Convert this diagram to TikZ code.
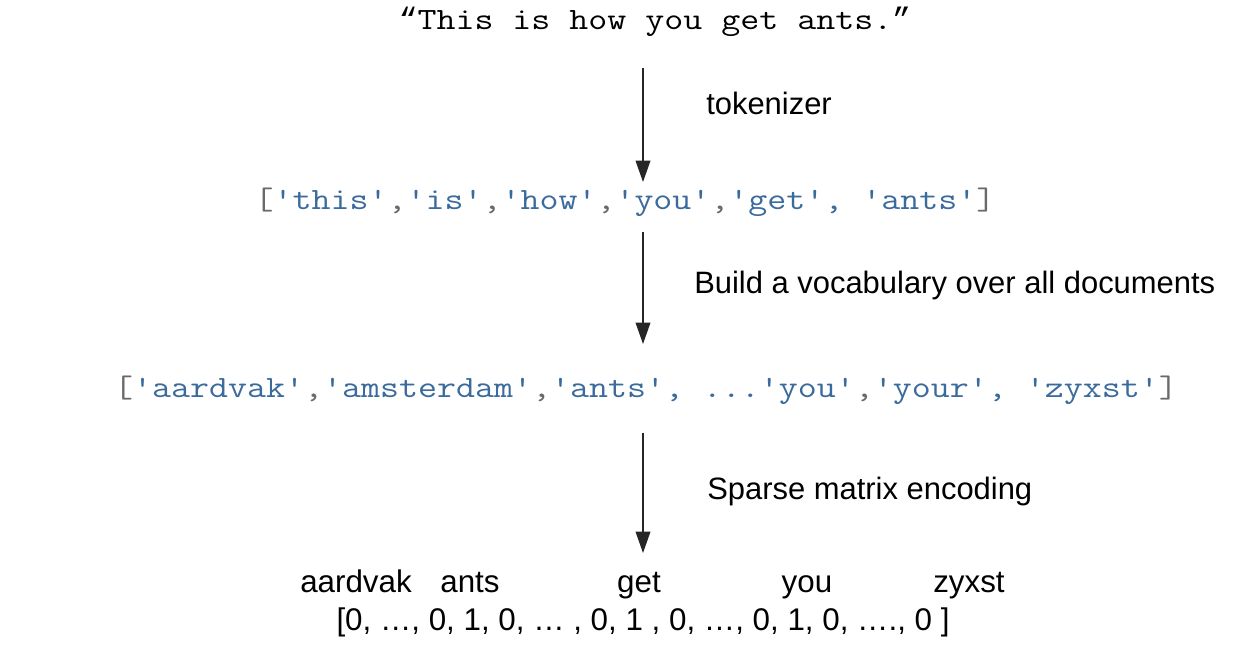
\documentclass[tikz,border=0pt]{standalone}
\usepackage{fontspec}
\setmainfont{Liberation Sans}
\setmonofont{Latin Modern Mono}[FakeStretch=1.19]
\newfontfamily\quotefont{Liberation Mono}
\usetikzlibrary{arrows.meta}
\definecolor{strblue}{HTML}{3B6B9C}
\definecolor{punct}{HTML}{6A6A6A}
\newcommand{\qs}[1]{\textcolor{strblue}{#1}}
\newcommand{\pc}[1]{\textcolor{punct}{#1}}
\begin{document}
\begin{tikzpicture}[x=0.75pt,y=-0.75pt,
  code/.style={font=\ttfamily\fontsize{23.25}{26}\selectfont, inner sep=0pt},
  label/.style={font=\fontsize{23.2}{26}\selectfont, inner sep=0pt, anchor=west},
  word/.style={font=\fontsize{23.5}{26}\selectfont, inner sep=0pt, anchor=base},
  flow/.style={-{Triangle[width=11pt,length=16pt]}, line width=1.1pt, black!85}]
\useasboundingbox (0,0) rectangle (1250,648);

% sentence and its two list forms
\node[code] (sentence) at (655,22) {{\quotefont “}This is how you get ants.{\quotefont ”}};
\node[code] (tokens) at (625,202)
  {\pc{[}\qs{'this'}\pc{,}\qs{'is'}\pc{,}\qs{'how'}\pc{,}\qs{'you'}\pc{,}\qs{'get', 'ants'}\pc{]}};
\node[code] (vocab) at (646,390)
  {\pc{[}\qs{'aardvak'}\pc{,}\qs{'amsterdam'}\pc{,}\qs{'ants', ...'you'}\pc{,}\qs{'your', 'zyxst'}\pc{]}};

% encoded vector with column headings
\node[word] (haardvak) at (356,592) {aardvak};
\node[word] (hants) at (470,592) {ants};
\node[word] (hget) at (639,592) {get};
\node[word] (hyou) at (807,592) {you};
\node[word] (hzyxst) at (969,592) {zyxst};
\node[word] (vector) at (643,630) {[0, …, 0, 1, 0, … , 0, 1 , 0, …, 0, 1, 0, …., 0 ]};

% step labels
\node[label] (ltok) at (706,103) {tokenizer};
\node[label] (lvoc) at (694,286) {Build a vocabulary over all documents};
\node[label] (lenc) at (707,492) {Sparse matrix encoding};

% arrow ends
\coordinate (a1s) at (643,68);  \coordinate (a1e) at (643,182);
\coordinate (a2s) at (643,232); \coordinate (a2e) at (643,344);
\coordinate (a3s) at (643,433); \coordinate (a3e) at (643,553);
\draw[flow] (a1s) -- (a1e);
\draw[flow] (a2s) -- (a2e);
\draw[flow] (a3s) -- (a3e);
\end{tikzpicture}
\end{document}
